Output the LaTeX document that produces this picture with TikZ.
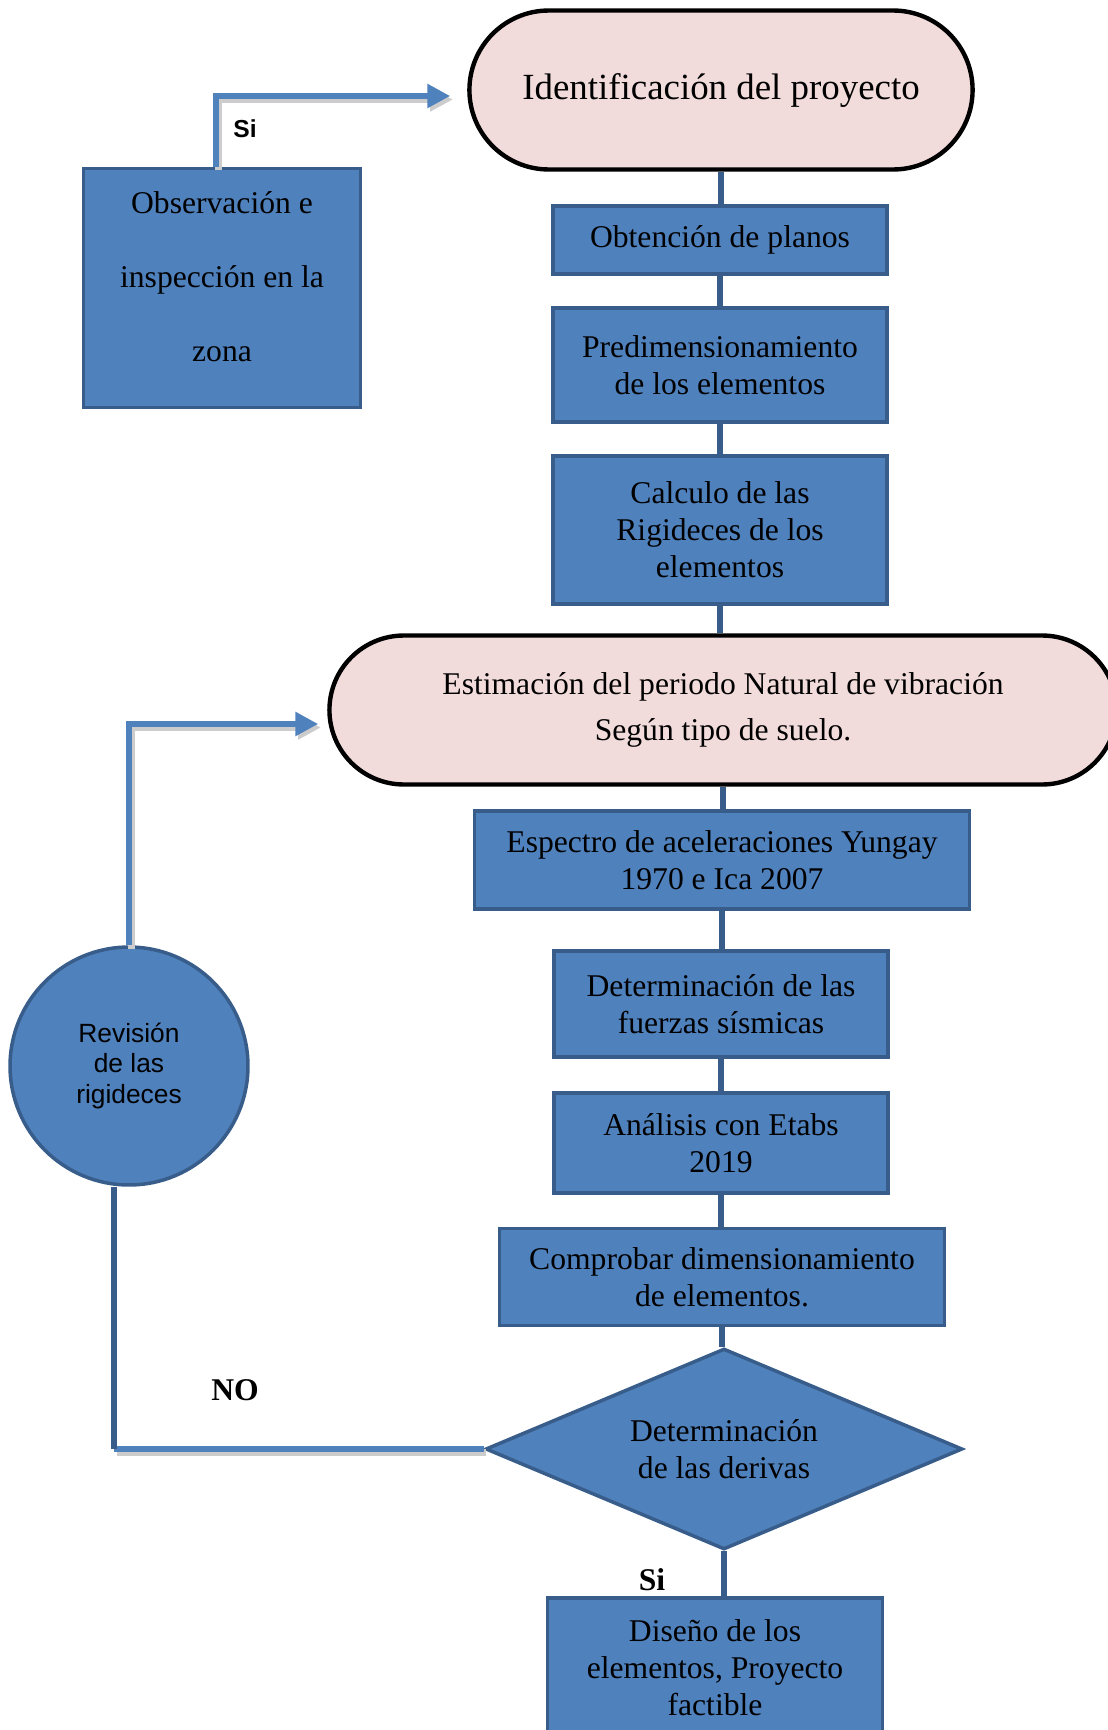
\documentclass[tikz,border=0pt]{standalone}
\usepackage{fontspec}
\setmainfont{Liberation Serif}
\setsansfont{Liberation Sans}
\usetikzlibrary{arrows.meta,shapes.geometric,shapes.misc}

\definecolor{boxblue}{HTML}{4F81BD}
\definecolor{edgeblue}{HTML}{385D8A}
\definecolor{pillpink}{HTML}{F2DCDB}

\begin{document}
\begin{tikzpicture}[x=0.02cm,y=-0.02cm,>=Stealth,
    box/.style={draw=edgeblue,fill=boxblue,line width=2pt,align=center,inner sep=2pt,
      font=\fontsize{18}{21}\selectfont},
    pill/.style={rounded rectangle,draw=black,fill=pillpink,line width=2.5pt,align=center},
    link/.style={draw=edgeblue,line width=3.6pt},
    backline/.style={draw=boxblue,line width=3.8pt,
      preaction={draw=black!20,line width=3.8pt,transform canvas={shift={(1.5pt,-2pt)}}}},
    flow/.style={draw=boxblue,line width=3.8pt,-{Triangle[length=13pt,width=13pt]},
      preaction={draw=black!20,line width=3.8pt,-{Triangle[length=13pt,width=13pt]},
        transform canvas={shift={(1.5pt,-2pt)}}}},
    tag/.style={font=\bfseries\fontsize{18}{21}\selectfont}]
  \useasboundingbox (0,0) rectangle (1108,1730);

  % main column
  \node[pill,minimum width=10.3cm,minimum height=3.18cm,font=\fontsize{21}{25}\selectfont]
    (ident) at (721,90) {Identificación del proyecto};
  \node[box,minimum width=6.68cm,minimum height=1.36cm] (planos) at (720,240) {Obtención de planos};
  \node[box,minimum width=6.68cm,minimum height=2.28cm] (predim) at (720,365)
    {Predimensionamiento\\de los elementos};
  \node[box,minimum width=6.68cm,minimum height=2.96cm] (rigid) at (720,530)
    {Calculo de las\\Rigideces de los\\elementos};
  \node[pill,minimum width=15.98cm,minimum height=2.98cm,font=\fontsize{18}{26.5}\selectfont]
    (periodo) at (723,710) {Estimación del periodo Natural de vibración\\Según tipo de suelo.};
  \node[box,minimum width=9.9cm,minimum height=1.96cm] (espectro) at (722,860)
    {Espectro de aceleraciones Yungay\\1970 e Ica 2007};
  \node[box,minimum width=6.68cm,minimum height=2.12cm] (fuerzas) at (721,1004)
    {Determinación de las\\fuerzas sísmicas};
  \node[box,minimum width=6.68cm,minimum height=2cm] (etabs) at (721,1143) {Análisis con Etabs\\2019};
  \node[box,minimum width=8.9cm,minimum height=1.94cm] (comprobar) at (722,1277)
    {Comprobar dimensionamiento\\de elementos.};
  \node[box,diamond,aspect=2.37,inner sep=0pt,minimum width=9.54cm,minimum height=4.02cm]
    (derivas) at (724,1449) {Determinación\\de las derivas};
  \node[box,minimum width=6.7cm,minimum height=2.8cm] (diseno) at (715,1668)
    {Diseño de los\\elementos, Proyecto\\factible};

  % side nodes
  \node[box,minimum width=5.54cm,minimum height=4.78cm,font=\fontsize{18}{42}\selectfont]
    (obs) at (222,288) {Observación e\\inspección en la\\zona\\[-29pt]\mbox{}};
  \node[box,circle,minimum size=4.76cm,font=\sffamily\fontsize{15}{17.5}\selectfont]
    (revision) at (129,1066) {Revisión\\de las\\rigideces};

  % connectors
  \draw[link] (ident.south) -- (ident.south |- planos.north);
  \draw[link] (planos.south) -- (planos.south |- predim.north);
  \draw[link] (predim.south) -- (predim.south |- rigid.north);
  \draw[link] (rigid.south) -- (rigid.south |- periodo.north);
  \draw[link] (periodo.south) -- (periodo.south |- espectro.north);
  \draw[link] (espectro.south) -- (espectro.south |- fuerzas.north);
  \draw[link] (fuerzas.south) -- (fuerzas.south |- etabs.north);
  \draw[link] (etabs.south) -- (etabs.south |- comprobar.north);
  \draw[link] (comprobar.south) -- (comprobar.south |- derivas.north);
  \draw[link] (derivas.south) -- (derivas.south |- diseno.north);

  \draw[flow] ([xshift=-0.12cm]obs.north) |- ([xshift=-0.34cm,yshift=-0.12cm]ident.west);
  \draw[flow] (revision.north) |- ([xshift=-0.18cm,yshift=-0.28cm]periodo.west);
  \coordinate (noturn) at ([xshift=-0.3cm]revision.south |- derivas.west);
  \draw[backline] (derivas.west) -- (noturn);
  \draw[link] (noturn) -- ([xshift=-0.3cm]revision.south);

  % labels
  \node[font=\sffamily\bfseries\fontsize{14}{16}\selectfont] (sitop) at (245,129) {Si};
  \node[tag] (no) at (235,1390) {NO};
  \node[tag] (sibottom) at (652,1580) {Si};
\end{tikzpicture}
\end{document}
